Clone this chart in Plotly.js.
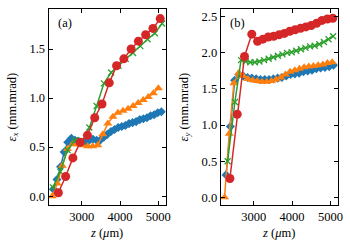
<!DOCTYPE html>
<html><head><meta charset="utf-8">
<script src="https://cdn.plot.ly/plotly-3.0.1.min.js"></script>
<style>html,body{margin:0;padding:0;background:#fff}#chart{width:350px;height:250px}</style>
</head><body><div id="chart"></div>
<script>
// Panel (a): emittance x
const aBlueX = [2260,2354,2448,2542,2636,2730,2824,2918,3012,3106,3200,3294,3388,3482,3576,3670,3764,3858,3952,4046,4140,4234,4328,4422,4516,4610,4704,4798,4892,4986,5080];
const aBlueY = [0.07,0.17,0.30,0.45,0.55,0.59,0.57,0.56,0.55,0.56,0.57,0.58,0.57,0.57,0.60,0.63,0.66,0.68,0.70,0.71,0.72,0.74,0.75,0.76,0.78,0.79,0.80,0.82,0.83,0.85,0.86];
const aOrangeX = [2230,2362,2494,2626,2758,2890,3022,3154,3286,3418,3550,3682,3814,3946,4078,4210,4342,4474,4606,4738,4870,5002];
const aOrangeY = [0.00,0.13,0.31,0.48,0.53,0.53,0.52,0.51,0.51,0.52,0.63,0.74,0.81,0.85,0.87,0.89,0.92,0.95,0.98,1.01,1.05,1.10];
const aGreenX = [2250,2440,2630,2820,3010,3200,3390,3580,3770,3960,4150,4340,4530,4720,4910,5100];
const aGreenY = [0.09,0.25,0.47,0.57,0.56,0.70,0.92,1.15,1.26,1.33,1.40,1.46,1.53,1.60,1.66,1.76];
const aRedX = [2390,2580,2770,2960,3150,3340,3530,3720,3910,4100,4290,4480,4670,4860,5050];
const aRedY = [0.035,0.20,0.39,0.55,0.62,0.80,0.94,1.155,1.33,1.40,1.50,1.58,1.645,1.71,1.81];

// Panel (b): emittance y
const bBlueX = [2280,2392,2504,2616,2728,2840,2952,3064,3176,3288,3400,3512,3624,3736,3848,3960,4072,4184,4296,4408,4520,4632,4744,4856,4968,5080];
const bBlueY = [0.31,0.98,1.62,1.70,1.68,1.66,1.65,1.64,1.63,1.63,1.63,1.64,1.65,1.66,1.68,1.70,1.71,1.72,1.74,1.75,1.76,1.78,1.79,1.80,1.81,1.83];
const bOrangeX = [2240,2362,2484,2606,2728,2850,2972,3094,3216,3338,3460,3582,3704,3826,3948,4070,4192,4314,4436,4558,4680,4802,4924,5046];
const bOrangeY = [0.00,0.88,1.58,1.72,1.68,1.64,1.62,1.61,1.60,1.60,1.61,1.63,1.66,1.70,1.74,1.76,1.78,1.80,1.81,1.82,1.83,1.84,1.86,1.87];
const bGreenX = [2320,2510,2670,2790,2910,3030,3150,3270,3390,3510,3630,3750,3870,3990,4110,4230,4350,4470,4590,4710,4830,4950,5070];
const bGreenY = [0.50,1.32,1.90,1.88,1.87,1.87,1.88,1.90,1.92,1.94,1.96,1.98,2.00,2.01,2.03,2.05,2.07,2.09,2.10,2.12,2.15,2.19,2.23];
const bRedX = [2380,2570,2760,2950,3100,3240,3380,3520,3660,3800,3940,4080,4220,4360,4500,4640,4780,4920,5060];
const bRedY = [0.26,1.15,1.95,2.26,2.16,2.19,2.22,2.23,2.25,2.27,2.30,2.32,2.34,2.36,2.38,2.41,2.45,2.47,2.48];

const xTicks = [3000,4000,5000];
const C = {blue:'#1f77b4', orange:'#ff7f0e', green:'#2ca02c', red:'#d62728'};

function tr(x, y, color, kind, xa, ya) {
  const t = {x: x, y: y, xaxis: xa, yaxis: ya, mode: 'lines+markers', type: 'scatter',
    line: {color: color, width: 1.5}, showlegend: false, hoverinfo: 'skip'};
  if (kind === 'd') t.marker = {symbol: 'diamond', size: 7, color: color};
  if (kind === 't') t.marker = {symbol: 'triangle-up', size: 8, color: color};
  if (kind === 'x') t.marker = {symbol: 'x-thin', size: 6, color: color, line: {color: color, width: 1.3}};
  if (kind === 'o') t.marker = {symbol: 'circle', size: 9, color: color};
  return t;
}

const data = [
  tr(aBlueX, aBlueY, C.blue, 'd', 'x', 'y'),
  tr(aOrangeX, aOrangeY, C.orange, 't', 'x', 'y'),
  tr(aGreenX, aGreenY, C.green, 'x', 'x', 'y'),
  tr(aRedX, aRedY, C.red, 'o', 'x', 'y'),
  tr(bBlueX, bBlueY, C.blue, 'd', 'x2', 'y2'),
  tr(bOrangeX, bOrangeY, C.orange, 't', 'x2', 'y2'),
  tr(bGreenX, bGreenY, C.green, 'x', 'x2', 'y2'),
  tr(bRedX, bRedY, C.red, 'o', 'x2', 'y2')
];

const font = {family: 'Liberation Serif, DejaVu Serif, serif', size: 12.5, color: '#000'};
function ax(extra) {
  return Object.assign({
    showgrid: false, zeroline: false, showline: true, linecolor: '#000', linewidth: 1,
    mirror: 'allticks', ticks: 'inside', ticklen: 4, tickwidth: 1, tickcolor: '#000',
    tickfont: font
  }, extra);
}

const layout = {
  width: 350, height: 250,
  margin: {l: 0, r: 0, t: 0, b: 0},
  paper_bgcolor: '#fff', plot_bgcolor: '#fff',
  font: font,
  xaxis: ax({domain: [0.1386, 0.4734], range: [2133, 5193], tickvals: xTicks, anchor: 'y',
    title: {text: '<i>z</i> (<i>μ</i>m)', font: font, standoff: 5}}),
  yaxis: ax({domain: [0.18, 0.9628], range: [-0.09, 1.905], dtick: 0.5, tickformat: '.1f', anchor: 'x',
    title: {text: '<i>ε</i><sub><i>x</i></sub> (mm.mrad)', font: font, standoff: 10}}),
  xaxis2: ax({domain: [0.6306, 0.9649], range: [2140, 5190], tickvals: xTicks, anchor: 'y2',
    title: {text: '<i>z</i> (<i>μ</i>m)', font: font, standoff: 5}}),
  yaxis2: ax({domain: [0.18, 0.9628], range: [-0.107, 2.604], dtick: 0.5, tickformat: '.1f', anchor: 'x2',
    title: {text: '<i>ε</i><sub><i>y</i></sub> (mm.mrad)', font: font, standoff: 10}}),
  annotations: [
    {text: '(a)', xref: 'x domain', yref: 'y domain', x: 0.06, y: 0.93, xanchor: 'left', yanchor: 'middle', showarrow: false, font: font},
    {text: '(b)', xref: 'x2 domain', yref: 'y2 domain', x: 0.06, y: 0.93, xanchor: 'left', yanchor: 'middle', showarrow: false, font: font}
  ]
};

Plotly.newPlot('chart', data, layout, {staticPlot: true, displayModeBar: false});
</script>
</body></html>
